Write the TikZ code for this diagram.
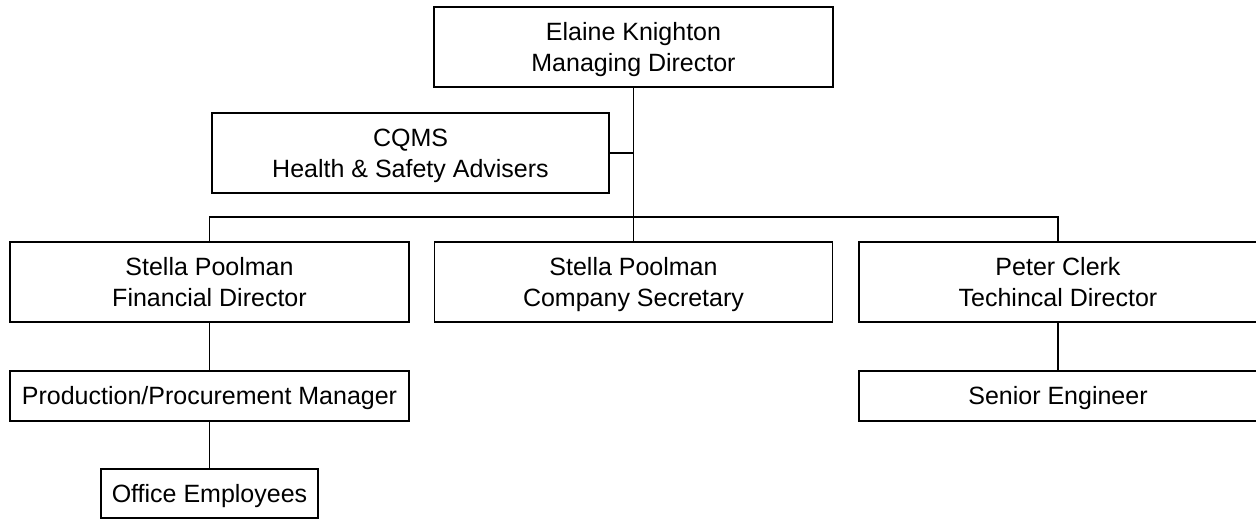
\documentclass[tikz,border=0pt]{standalone}
\usepackage{fontspec}
\setmainfont{Liberation Sans}
\newcommand{\ls}{\rule[-6.1pt]{0pt}{30.1pt}}
\begin{document}
\begin{tikzpicture}[x=1pt,y=-1pt,
  box/.style={draw, line width=1.8pt, font=\fontsize{25}{29}\selectfont, align=center, inner sep=0pt},
  link/.style={line width=1.8pt}]
\useasboundingbox (0,0) rectangle (1256,520);
\node[box, minimum width=399pt, minimum height=80pt] (elaine) at (633.5,47) {Elaine Knighton\ls\\Managing Director\ls};
\node[box, minimum width=397pt, minimum height=80pt] (cqms) at (410.5,153) {CQMS\ls\\Health \& Safety Advisers\ls};
\node[box, minimum width=399pt, minimum height=80pt] (financial) at (209.5,282) {Stella Poolman\ls\\Financial Director\ls};
\node[box, minimum width=398pt, minimum height=80pt] (secretary) at (633.5,282) {Stella Poolman\ls\\Company Secretary\ls};
\node[box, minimum width=398pt, minimum height=80pt] (peter) at (1058,282) {Peter Clerk\ls\\Techincal Director\ls};
\node[box, minimum width=399pt, minimum height=50pt] (production) at (209.5,396) {Production/Procurement Manager\ls};
\node[box, minimum width=398pt, minimum height=50pt] (senior) at (1058,396) {Senior Engineer\ls};
\node[box, minimum width=217pt, minimum height=49pt] (office) at (209.5,493.5) {Office Employees\ls};
\coordinate (bus) at (633.5,217);
\draw[link] (elaine.south) -- (secretary.north);
\draw[link] (cqms.east) -- (cqms.east -| elaine.south);
\draw[link] (financial.north) -- (financial.north |- bus) -- (peter.north |- bus) -- (peter.north);
\draw[link] (financial.south) -- (production.north);
\draw[link] (production.south) -- (office.north);
\draw[link] (peter.south) -- (senior.north);
\end{tikzpicture}
\end{document}
